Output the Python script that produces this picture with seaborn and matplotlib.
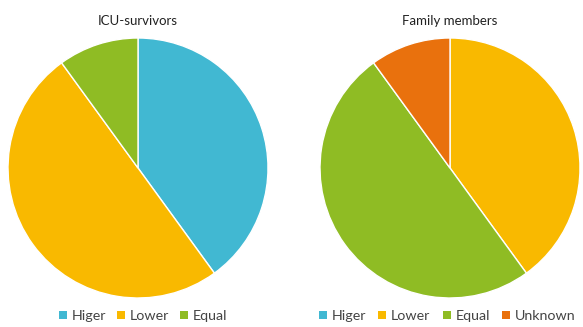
import matplotlib
matplotlib.use('Agg')
import matplotlib.pyplot as plt
import seaborn as sns
from matplotlib.lines import Line2D

# Данные
categories = ['Higer', 'Lower', 'Equal', 'Unknown']
survivors_values = [40, 50, 10, 0]
family_values = [0, 40, 50, 10]
colors = ['#41B8D2', '#F9B900', '#8FBC24', '#E9710D']

sns.set_theme(style='white')
plt.rcParams['font.family'] = ['Lato', 'DejaVu Sans']

fig = plt.figure(figsize=(5.83, 3.27), dpi=100)
fig.patch.set_facecolor('white')


def draw_pie(ax, values, labels, title, title_x, legend_x, colspace):
    vals = [v for v in values if v > 0]
    cols = [c for v, c in zip(values, colors) if v > 0]
    ax.pie(vals, colors=cols, startangle=90, counterclock=False,
           wedgeprops={'edgecolor': 'white', 'linewidth': 1.0})
    ax.set_xlim(-1, 1)
    ax.set_ylim(-1, 1)
    fig.text(title_x, 0.935, title, ha='center', va='center', fontsize=9.5, color='#222222')
    handles = [Line2D([0], [0], marker='s', linestyle='', markersize=5.5,
                      markerfacecolor=colors[categories.index(l)], markeredgewidth=0)
               for l in labels]
    fig.legend(handles, labels, loc='center', bbox_to_anchor=(legend_x, 0.033),
               ncol=len(labels), frameon=False, fontsize=10.3, handlelength=0.6,
               handletextpad=0.3, columnspacing=colspace, labelcolor='#444444')


ax1 = fig.add_axes([8 / 583, 29 / 327, 260 / 583, 260 / 327])
draw_pie(ax1, survivors_values, ['Higer', 'Lower', 'Equal'], 'ICU-survivors', 138 / 583, 143 / 583, 0.75)

ax2 = fig.add_axes([320 / 583, 29 / 327, 260 / 583, 260 / 327])
draw_pie(ax2, family_values, categories, 'Family members', 450 / 583, 447 / 583, 0.85)

plt.savefig('out.png', dpi=100, facecolor='white')
